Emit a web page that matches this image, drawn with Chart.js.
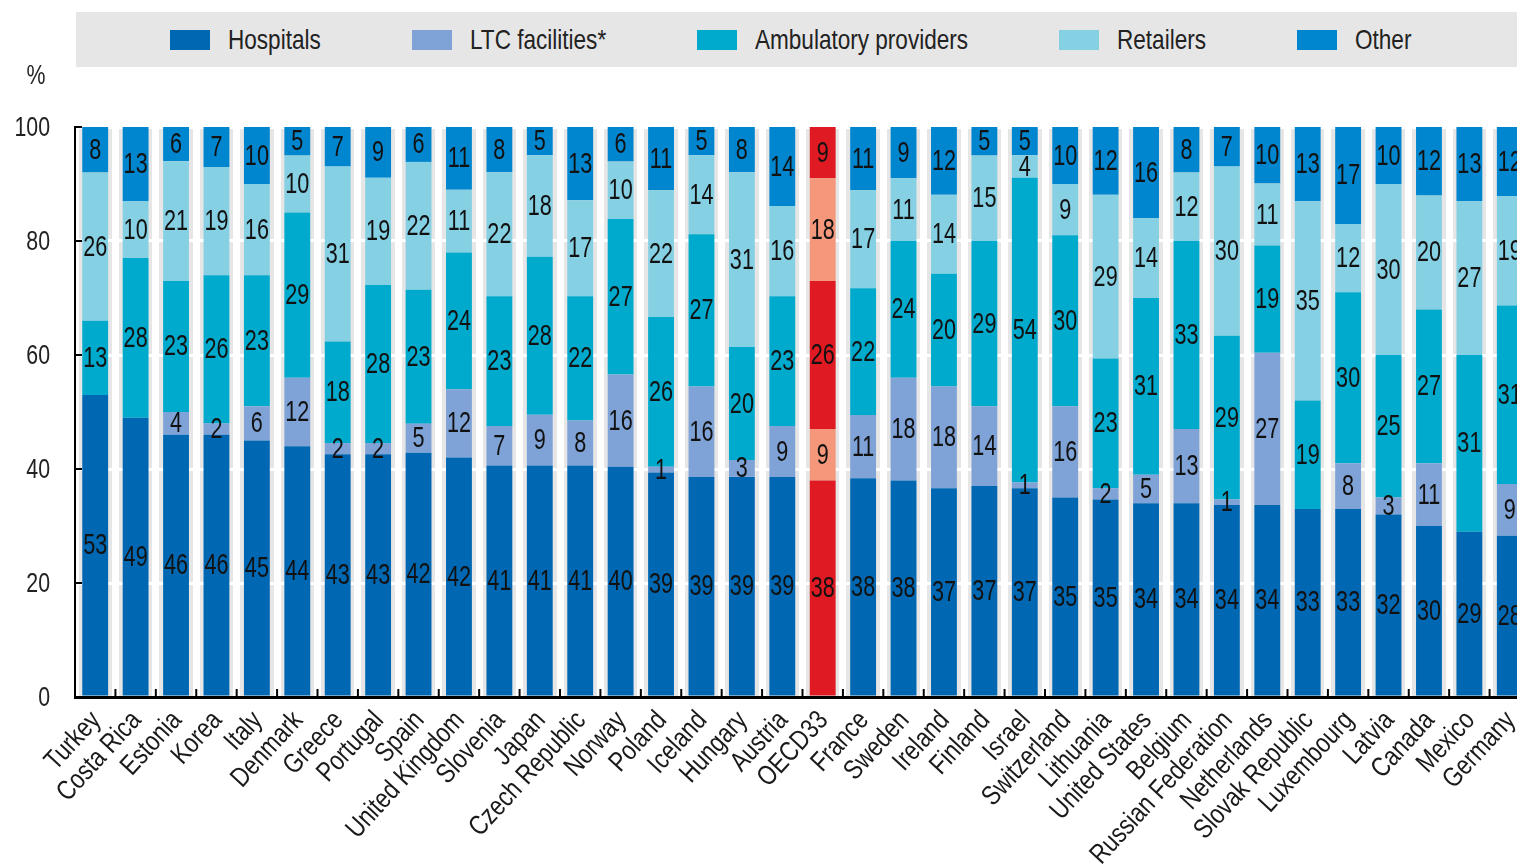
<!DOCTYPE html>
<html>
<head>
<meta charset="utf-8">
<script src="https://cdn.jsdelivr.net/npm/chart.js@4.4.0/dist/chart.umd.min.js"></script>
<style>
html,body{margin:0;padding:0;background:#fff;overflow:hidden;width:1517px;height:865px;}
#wrap{position:relative;width:1530px;height:865px;}
#legend{position:absolute;left:76px;top:12px;width:1460px;height:55px;background:#e6e6e6;z-index:2;font-family:'Liberation Sans',Arial,sans-serif;font-size:27.5px;color:#222;}
.sw{position:absolute;top:18px;width:40px;height:20px}
.tx{position:absolute;top:0;line-height:55px;white-space:nowrap;transform:scaleX(0.82);transform-origin:0 50%}
canvas{position:absolute;left:0;top:0}
</style>
</head>
<body>
<div id="wrap">
<div id="legend"></div>
<canvas id="c" width="1530" height="865"></canvas>
</div>
<script>
const categories = ['Turkey','Costa Rica','Estonia','Korea','Italy','Denmark','Greece','Portugal','Spain','United Kingdom','Slovenia','Japan','Czech Republic','Norway','Poland','Iceland','Hungary','Austria','OECD33','France','Sweden','Ireland','Finland','Israel','Switzerland','Lithuania','United States','Belgium','Russian Federation','Netherlands','Slovak Republic','Luxembourg','Latvia','Canada','Mexico','Germany'];
const hospitals  = [53,49,46,46,45,44,43,43,42,42,41,41,41,40,39,39,39,39,38,38,38,37,37,37,35,35,34,34,34,34,33,33,32,30,29,28];
const ltc        = [0,0,4,2,6,12,2,2,5,12,7,9,8,16,1,16,3,9,9,11,18,18,14,1,16,2,5,13,1,27,0,8,3,11,0,9];
const ambulatory = [13,28,23,26,23,29,18,28,23,24,23,28,22,27,26,27,20,23,26,22,24,20,29,54,30,23,31,33,29,19,19,30,25,27,31,31];
const retailers  = [26,10,21,19,16,10,31,19,22,11,22,18,17,10,22,14,31,16,18,17,11,14,15,4,9,29,14,12,30,11,35,12,30,20,27,19];
const other      = [8,13,6,7,10,5,7,9,6,11,8,5,13,6,11,5,8,14,9,11,9,12,5,5,10,12,16,8,7,10,13,17,10,12,13,12];
const seriesNames = ['Hospitals','LTC facilities*','Ambulatory providers','Retailers','Other'];
const yTicks = [0,20,40,60,80,100];
const yUnit = '%';
const highlight = 'OECD33';

const FONT = "'Liberation Sans',Arial,sans-serif";
const NARROW = 0.8;
const baseColors = ['#0068b3','#7fa3d7','#00aacc','#86d0e3','#0086cf'];
const hiColors = ['#e01a22','#f5977b','#e01a22','#f5977b','#e01a22'];
const seriesData = [hospitals, ltc, ambulatory, retailers, other];
// each bar is a 100% share bar: scale the rounded shares so each column closes at 100
const totals = categories.map((c,i)=>seriesData.reduce((s,arr)=>s+arr[i],0));

// HTML legend
const leg = document.getElementById('legend');
let lx = 94;
seriesNames.forEach((n,i)=>{
  const sw=document.createElement('div');sw.className='sw';sw.style.background=baseColors[i];sw.style.left=lx+'px';
  const t=document.createElement('span');t.className='tx';t.textContent=n;t.style.left=(lx+58)+'px';
  leg.appendChild(sw);leg.appendChild(t);
  lx += 58 + t.getBoundingClientRect().width + 91;
});

const datasets = seriesNames.map((n,i)=>({
  label:n,
  data:seriesData[i].map((v,j)=>v*100/totals[j]),
  raw:seriesData[i],
  backgroundColor:categories.map(c=>c===highlight?hiColors[i]:baseColors[i]),
  borderWidth:0,
  barPercentage:0.64,
  categoryPercentage:1.0,
  stack:'s'
}));

function narrowText(ctx,txt,x,y,size,align,rot,color,sx,sy){
  ctx.save();
  ctx.translate(x,y);
  if(rot) ctx.rotate(rot);
  ctx.scale(sx||NARROW,sy||1);
  ctx.font=size+'px '+FONT;
  ctx.fillStyle=color;
  ctx.textAlign=align;ctx.textBaseline='middle';
  ctx.fillText(txt,0,0);
  ctx.restore();
}

const bgPlugin = {
  id:'bg',
  beforeDraw(chart){
    const {ctx,chartArea:a}=chart;
    ctx.save();ctx.fillStyle='#e6e6e6';
    ctx.fillRect(a.left,a.top,a.right-a.left,a.bottom-a.top);
    ctx.restore();
  }
};

const labelPlugin = {
  id:'vals',
  afterDatasetsDraw(chart){
    const ctx=chart.ctx;
    chart.data.datasets.forEach((ds,di)=>{
      const meta=chart.getDatasetMeta(di);
      meta.data.forEach((el,i)=>{
        const v=ds.raw[i];
        if(!v) return;
        narrowText(ctx,String(v),el.x,(el.y+el.base)/2+1,27,'center',0,'#111',0.8,1.08);
      });
    });
  }
};

const axisPlugin = {
  id:'axisdeco',
  afterDraw(chart){
    const ctx=chart.ctx, x=chart.scales.x, y=chart.scales.y, a=chart.chartArea;
    ctx.save();ctx.strokeStyle='#000';ctx.lineWidth=2;
    yTicks.forEach(v=>{
      if(v===0) return;
      const py=y.getPixelForValue(v);
      ctx.beginPath();ctx.moveTo(a.left,py);ctx.lineTo(a.left+7,py);ctx.stroke();
    });
    for(let i=1;i<categories.length;i++){
      const px=(x.getPixelForTick(i)+x.getPixelForTick(i-1))/2;
      ctx.beginPath();ctx.moveTo(px,a.bottom);ctx.lineTo(px,a.bottom-8);ctx.stroke();
    }
    ctx.restore();
    // y tick labels
    yTicks.forEach(v=>{
      narrowText(ctx,String(v),50,y.getPixelForValue(v)+1,26,'right',0,'#222',0.82,1.05);
    });
    narrowText(ctx,yUnit,36,76,26,'center',0,'#222',0.82,1.05);
    // x tick labels, rotated
    const ang=-47.5*Math.PI/180;
    categories.forEach((c,i)=>{
      const px=x.getPixelForTick(i);
      narrowText(ctx,c,px+1,a.bottom+19,27.5,'right',ang,'#1a1a1a',0.82,1);
    });
  }
};

new Chart(document.getElementById('c'),{
  type:'bar',
  data:{labels:categories,datasets},
  options:{
    responsive:false,
    animation:false,
    layout:{padding:{top:127,left:0,right:0,bottom:0}},
    plugins:{legend:{display:false},tooltip:{enabled:false}},
    scales:{
      x:{
        stacked:true,
        grid:{color:'#ffffff',lineWidth:7,offset:true,drawTicks:false},
        border:{color:'#000',width:3},
        ticks:{display:false,autoSkip:false},
        afterFit(s){s.height=168;}
      },
      y:{
        stacked:true,min:0,max:100,
        afterBuildTicks(s){s.ticks=yTicks.map(v=>({value:v}));},
        grid:{color:'#ffffff',lineWidth:3,drawTicks:false},
        border:{color:'#000',width:2},
        ticks:{display:false},
        afterFit(s){s.width=75;}
      }
    }
  },
  plugins:[bgPlugin,labelPlugin,axisPlugin]
});
</script>
</body>
</html>
